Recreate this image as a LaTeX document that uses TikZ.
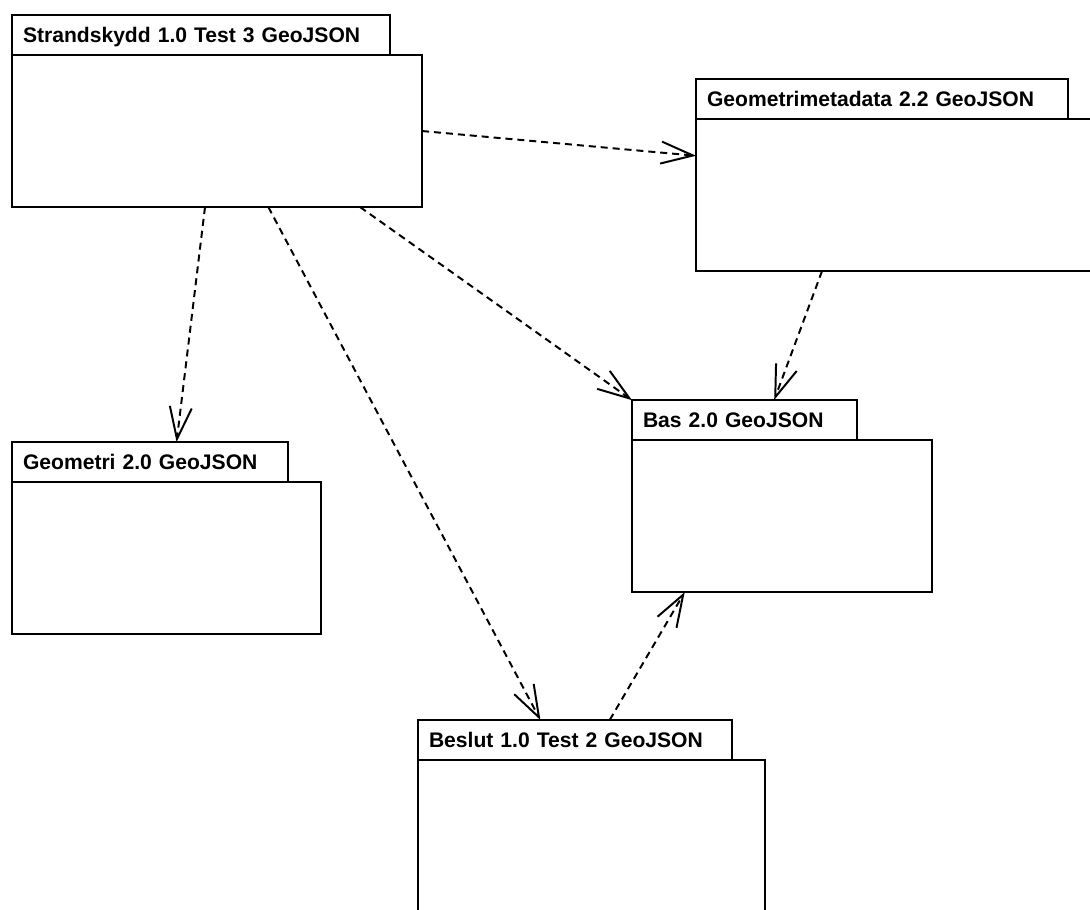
\documentclass[tikz,border=0pt]{standalone}
\usepackage{fontspec}
\setmainfont{Liberation Sans}
\usetikzlibrary{arrows.meta}
\begin{document}
\begin{tikzpicture}[x=.025cm,y=-.025cm,line width=1.4pt,
  pkgtab/.style={draw,anchor=north west,outer sep=0pt,minimum height=1cm,inner xsep=.275cm,
    align=left,text height=.375cm,text depth=0pt,font=\bfseries\fontsize{15}{18}\selectfont},
  pkgbody/.style={draw,anchor=north west,outer sep=0pt,minimum height=3.8cm},
  dep/.style={dash pattern=on 5pt off 3.5pt,-{Straight Barb[length=.8cm,width=.55cm]}}]
  \useasboundingbox (0,0) rectangle (1090,909);
  \clip (0,0) rectangle (1090,909);
  \node[pkgtab,text width=8.9cm] (St) at (12,15) {Strandskydd 1.0 Test 3 GeoJSON};
  \node[pkgbody,minimum width=10.25cm] (Stb) at (St.south west) {};
  \node[pkgtab,text width=8.75cm] (Gm) at (696,79) {Geometrimetadata 2.2 GeoJSON};
  \node[pkgbody,minimum width=10.1cm] (Gmb) at (Gm.south west) {};
  \node[pkgtab,text width=5.075cm] (Ba) at (632,400) {Bas 2.0 GeoJSON};
  \node[pkgbody,minimum width=7.5cm] (Bab) at (Ba.south west) {};
  \node[pkgtab,text width=6.35cm] (Ge) at (12,442) {Geometri 2.0 GeoJSON};
  \node[pkgbody,minimum width=7.725cm] (Geb) at (Ge.south west) {};
  \node[pkgtab,text width=7.3cm] (Be) at (418,720) {Beslut 1.0 Test 2 GeoJSON};
  \node[pkgbody,minimum width=8.675cm] (Beb) at (Be.south west) {};
  \draw[dep] (Stb.east) -- (Gmb.169);
  \draw[dep] (Stb.-99) -- (Ge.37);
  \draw[dep] (Stb.-56) -- (Be.150);
  \draw[dep] (Stb.-28) -- (Ba.170);
  \draw[dep] (Gmb.-135) -- (Ba.34);
  \draw[dep] (Be.30) -- (Bab.-142);
\end{tikzpicture}
\end{document}
